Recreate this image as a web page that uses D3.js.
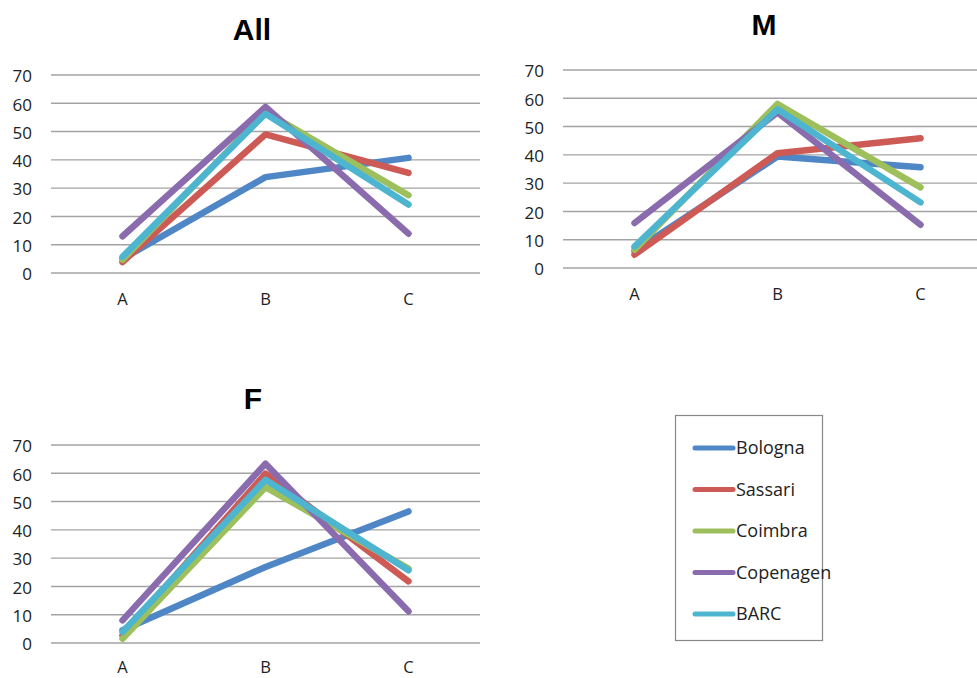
<!DOCTYPE html>
<html>
<head>
<meta charset="utf-8">
<script src="https://cdn.jsdelivr.net/npm/d3@7"></script>
<style>
  body { margin: 0; background: #fff; }
  svg { display: block; }
  .tick text { font-family: "Open Sans", sans-serif; fill: #222; }
</style>
</head>
<body>
<div id="chart"></div>
<script>
// categories and series
var categories = ["A", "B", "C"];
var seriesNames = ["Bologna", "Sassari", "Coimbra", "Copenagen", "BARC"];
var colors = ["#4f86c6", "#cd5a55", "#9dbf5c", "#8a6cae", "#4db5cf"];
var yTicks = [0, 10, 20, 30, 40, 50, 60, 70];

// values per panel, one row per series (A, B, C)
var allValues = [
    [5, 33.9, 40.7],
    [3.9, 49.0, 35.4],
    [4.7, 57, 27.5],
    [13.0, 58.7, 13.9],
    [5.7, 56.3, 24.2]
];
var mValues = [
    [6, 39.4, 35.6],
    [4.7, 40.6, 45.9],
    [6.5, 58, 28.5],
    [15.9, 55, 15.3],
    [7.6, 56.1, 23.2]
];
var fValues = [
    [4.5, 26.9, 46.5],
    [2.7, 59.9, 21.8],
    [1.5, 55.1, 26.3],
    [8.0, 63.4, 11.2],
    [3.9, 57.7, 25.7]
];

var svg = d3.select("#chart")
    .append("svg")
    .attr("width", 977)
    .attr("height", 678);

var drawPanel = function(title, values, left, top, titleX, titleY, labelY) {
    var width = 429, height = 198;
    var x = d3.scaleBand().domain(categories).range([left, left + width]);
    var y = d3.scaleLinear().domain([0, 70]).range([top + height, top]);

    var g = svg.append("g");

    // gridlines
    g.selectAll(".grid")
        .data(yTicks)
        .enter().append("line")
        .attr("x1", left)
        .attr("x2", left + width)
        .attr("y1", function(d) { return y(d); })
        .attr("y2", function(d) { return y(d); })
        .style("stroke", "#a3a3a3")
        .style("stroke-width", 1.4);

    // y axis labels
    var yAxis = g.append("g")
        .attr("transform", "translate(" + (left - 19) + ",0)")
        .call(d3.axisLeft(y).tickValues(yTicks).tickSize(0).tickPadding(0));
    yAxis.select(".domain").remove();
    yAxis.selectAll("text").style("font-size", "17px").attr("dy", "0.4em");

    // x axis labels
    var xAxis = g.append("g")
        .attr("transform", "translate(0," + labelY + ")")
        .call(d3.axisBottom(x).tickSize(0).tickPadding(0));
    xAxis.select(".domain").remove();
    xAxis.selectAll("text").style("font-size", "16.5px").attr("dy", "0");

    // lines
    var line = d3.line()
        .x(function(d, i) { return x(categories[i]) + x.bandwidth() / 2; })
        .y(function(d) { return y(d); });

    g.selectAll(".series")
        .data(values)
        .enter().append("path")
        .attr("d", function(d) { return line(d); })
        .style("fill", "none")
        .style("stroke", function(d, i) { return colors[i]; })
        .style("stroke-width", 6.5)
        .style("stroke-linecap", "round")
        .style("stroke-linejoin", "round");

    svg.append("text")
        .attr("x", titleX)
        .attr("y", titleY)
        .attr("text-anchor", "middle")
        .style("font-family", "Liberation Sans, Arial, sans-serif")
        .style("font-weight", "bold")
        .style("font-size", "30px")
        .text(title);
};

drawPanel("All", allValues, 51, 75, 252, 40, 305);
drawPanel("M", mValues, 563, 70, 764, 35, 300);
drawPanel("F", fValues, 51, 445, 253, 409, 673);

// legend
var legend = svg.append("g");
legend.append("rect")
    .attr("x", 675.5)
    .attr("y", 415.5)
    .attr("width", 147)
    .attr("height", 225)
    .style("fill", "#fff")
    .style("stroke", "#888")
    .style("stroke-width", 1.2);

var item = legend.selectAll(".item")
    .data(seriesNames)
    .enter().append("g")
    .attr("transform", function(d, i) { return "translate(0," + (448 + i * 41.5) + ")"; });

item.append("line")
    .attr("x1", 695)
    .attr("x2", 733)
    .style("stroke", function(d, i) { return colors[i]; })
    .style("stroke-width", 5)
    .style("stroke-linecap", "round");

item.append("text")
    .attr("x", 736)
    .attr("dy", "0.36em")
    .style("font-family", "Open Sans, sans-serif")
    .style("font-size", "18px")
    .style("fill", "#222")
    .text(function(d) { return d; });
</script>
</body>
</html>
